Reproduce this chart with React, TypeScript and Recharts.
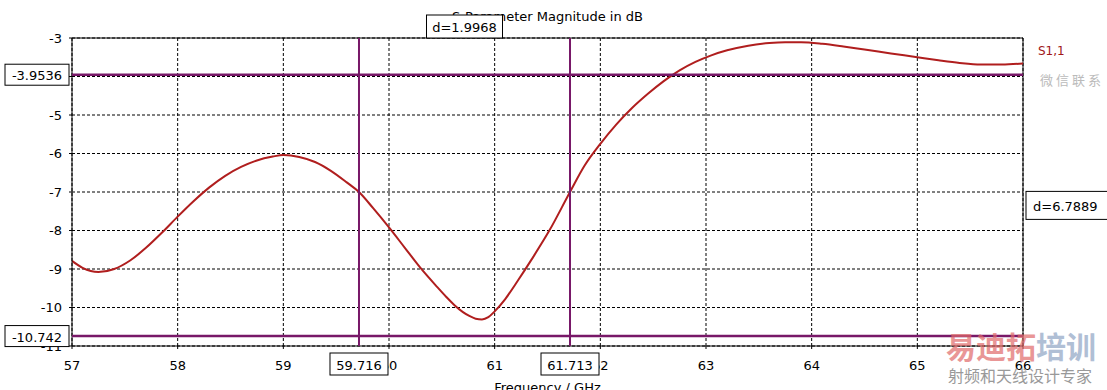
import React from 'react';
import {
  LineChart,
  Line,
  XAxis,
  YAxis,
  CartesianGrid,
  ReferenceLine,
  ReferenceArea,
} from 'recharts';

// S1,1 magnitude
const freqs = [
  57, 57.1, 57.25, 57.4, 57.55, 57.7, 57.85, 58, 58.15, 58.3, 58.45, 58.6, 58.75,
  58.9, 59, 59.15, 59.3, 59.45, 59.6, 59.716, 59.85, 60, 60.15, 60.3, 60.45, 60.54,
  60.62, 60.7, 60.76, 60.82, 60.88, 60.94, 61, 61.1, 61.22, 61.35, 61.52, 61.713, 61.85,
  62, 62.15, 62.3, 62.45, 62.6, 62.75, 62.9, 63.05, 63.2, 63.4, 63.6, 63.75, 63.9,
  64.1, 64.3, 64.5, 64.75, 65, 65.2, 65.4, 65.6, 65.8, 66,
];
const s11 = [
  -8.79, -8.97, -9.08, -9.0, -8.78, -8.45, -8.06, -7.64, -7.24, -6.88, -6.58, -6.35, -6.18,
  -6.08, -6.04, -6.09, -6.22, -6.45, -6.75, -7.0, -7.42, -7.92, -8.45, -8.98, -9.45, -9.72,
  -9.94, -10.12, -10.22, -10.29, -10.31, -10.25, -10.1, -9.78, -9.3, -8.75, -7.99, -7.0, -6.32,
  -5.75, -5.25, -4.82, -4.45, -4.12, -3.84, -3.62, -3.45, -3.32, -3.2, -3.13, -3.11, -3.11,
  -3.15, -3.22, -3.3, -3.4, -3.5, -3.58, -3.65, -3.69, -3.69, -3.66,
];

const xTicks = [57, 58, 59, 60, 61, 62, 63, 64, 65, 66];
const yTicks = [-11, -10, -9, -8, -7, -6, -5, -4, -3];

const xMarkers = [59.716, 61.713];
const yMarkers = [-3.9536, -10.742];
const xDelta = '1.9968';
const yDelta = '6.7889';

const data = freqs.map((f, i) => ({ f, v: s11[i] }));

const FONT = '"DejaVu Sans", Verdana, sans-serif';
const MARKER = '#781868';

const boxText = (x: number, y: number, w: number, h: number, text: string, tx?: number) => (
  <g>
    <rect x={x} y={y} width={w} height={h} fill="#fff" stroke="#000" strokeWidth={1} />
    <text
      x={tx ?? x + w / 2}
      y={y + h / 2 + 1}
      textAnchor={tx ? 'start' : 'middle'}
      dominantBaseline="central"
      fontFamily={FONT}
      fontSize={13}
      fill="#000"
    >
      {text}
    </text>
  </g>
);

const hLabel = (text: string) => (props: any) => {
  const { x, y } = props.viewBox;
  return boxText(x - 67, y - 10.5, 64, 21, text);
};

const vLabel = (text: string) => (props: any) => {
  const { x, y, height } = props.viewBox;
  return boxText(x - 29, y + height + 7, 58, 22, text);
};

const topDelta = (props: any) => {
  const { x, y, width } = props.viewBox;
  return boxText(x + width / 2 - 38, y - 23, 76, 23, 'd=' + xDelta);
};

const rightDelta = (props: any) => {
  const { x, y, width, height } = props.viewBox;
  return boxText(x + width + 3, y + height / 2 - 14, 90, 28, 'd=' + yDelta, x + width + 10);
};

const axisProps = { tickSize: 3, axisLine: { stroke: '#000' }, tickLine: { stroke: '#000' } };
const tickStyle = { fontFamily: FONT, fontSize: 13, fill: '#000' };

export default function App() {
  return (
    <div style={{ position: 'absolute', left: 0, top: 0, width: 1107, height: 390, background: '#fff', overflow: 'hidden' }}>
      <div style={{ position: 'absolute', left: 0, width: 1095, top: 9, textAlign: 'center', fontFamily: FONT, fontSize: 13, color: '#000' }}>
        S-Parameter Magnitude in dB
      </div>
      <div style={{ position: 'absolute', left: 0, width: 1095, top: 380, textAlign: 'center', fontFamily: FONT, fontSize: 13, color: '#000' }}>
        Frequency / GHz
      </div>

      <div style={{ position: 'absolute', left: 0, top: 0 }}>
        <LineChart width={1107} height={390} data={data} margin={{ top: 38, right: 84, bottom: 14, left: 32 }}>
          <CartesianGrid stroke="#000" strokeDasharray="3 2" verticalValues={xTicks} horizontalValues={yTicks} />
          <XAxis
            dataKey="f"
            type="number"
            domain={[57, 66]}
            ticks={xTicks}
            allowDataOverflow
            height={30}
            tickMargin={12}
            tick={tickStyle}
            {...axisProps}
          />
          <YAxis
            type="number"
            domain={[-11, -3]}
            ticks={yTicks}
            allowDataOverflow
            width={40}
            tickMargin={7}
            tick={tickStyle}
            {...axisProps}
          />
          <ReferenceLine y={-3} stroke="#000" strokeWidth={1} />
          <ReferenceLine x={66} stroke="#000" strokeWidth={1} />
          <Line type="monotone" dataKey="v" stroke="#b01e1e" strokeWidth={2} dot={false} isAnimationActive={false} />
        </LineChart>
      </div>

      {/* markers sit in a second svg so their label boxes cover the tick labels */}
      <div style={{ position: 'absolute', left: 0, top: 0 }}>
        <LineChart width={1107} height={390} data={data} margin={{ top: 38, right: 84, bottom: 44, left: 72 }}>
          <XAxis dataKey="f" type="number" domain={[57, 66]} allowDataOverflow hide />
          <YAxis type="number" domain={[-11, -3]} allowDataOverflow hide />
          {yMarkers.map((m) => (
            <ReferenceLine key={'y' + m} y={m} stroke={MARKER} strokeWidth={2.5} label={hLabel(String(m))} />
          ))}
          {xMarkers.map((m) => (
            <ReferenceLine key={'x' + m} x={m} stroke={MARKER} strokeWidth={2} label={vLabel(String(m))} />
          ))}
          <ReferenceArea x1={xMarkers[0]} x2={xMarkers[1]} fill="none" fillOpacity={0} stroke="none" label={topDelta} />
          <ReferenceArea y1={yMarkers[1]} y2={yMarkers[0]} fill="none" fillOpacity={0} stroke="none" label={rightDelta} />
        </LineChart>
      </div>

      <div style={{ position: 'absolute', left: 1038, top: 44, fontFamily: FONT, fontSize: 12, color: '#a01818' }}>
        S1,1
      </div>
      <div style={{ position: 'absolute', left: 1040, top: 70, fontFamily: '"Noto Sans CJK SC"', fontSize: 13, letterSpacing: 3, color: '#bbb' }}>
        微信联系
      </div>
      <div style={{ position: 'absolute', left: 946, top: 328, fontFamily: '"Noto Sans CJK SC"', fontWeight: 700, fontSize: 30, lineHeight: '34px', opacity: 0.7 }}>
        <span style={{ color: '#e06a6a' }}>易迪拓</span>
        <span style={{ color: '#90a4c4' }}>培训</span>
      </div>
      <div style={{ position: 'absolute', left: 948, top: 366, fontFamily: '"Noto Sans CJK SC"', fontSize: 16, lineHeight: '18px', color: '#888', opacity: 0.85 }}>
        射频和天线设计专家
      </div>
    </div>
  );
}
